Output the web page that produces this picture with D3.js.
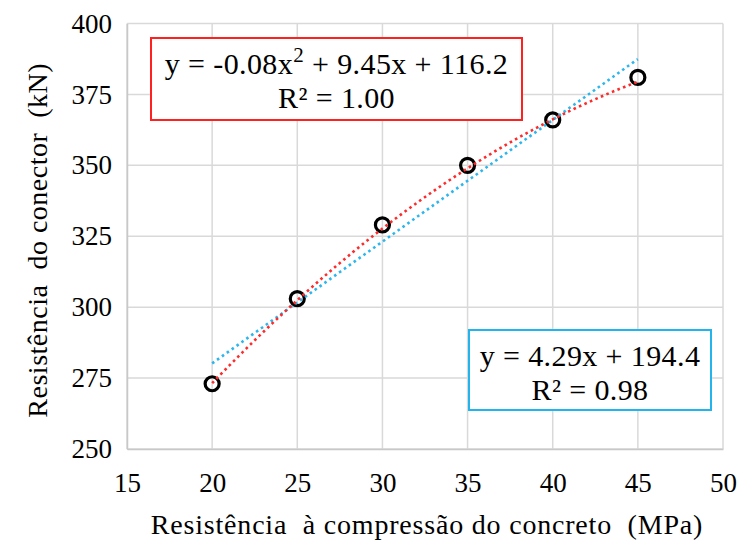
<!DOCTYPE html>
<html>
<head>
<meta charset="utf-8">
<script src="https://cdn.jsdelivr.net/npm/d3@7"></script>
<style>
  html, body { margin: 0; padding: 0; background: #fff; }
  svg text { font-family: "Liberation Serif", "Times New Roman", Times, "DejaVu Serif", serif; white-space: pre; }
</style>
</head>
<body>
<svg id="chart" width="741" height="548"></svg>
<script>
// Concrete compressive strength (MPa) vs. shear connector resistance (kN)
const strengthMPa = [20, 25, 30, 35, 40, 45];
const resistanceKN = [273, 303, 329, 350, 366, 381];

const xTicks = [15, 20, 25, 30, 35, 40, 45, 50];
const yTicks = [250, 275, 300, 325, 350, 375, 400];

// Trendline coefficients as printed in the equation boxes
const polyCoef = [-0.08, 9.45, 116.2];   // a x^2 + b x + c
const linCoef = [4.29, 194.4];           // m x + q
const polyR2 = "1.00";
const linR2 = "0.98";

const W = 741, H = 548;
const margin = { left: 127, right: 18, top: 23.5, bottom: 99 };
const svg = d3.select("#chart");

const x = d3.scaleLinear().domain([15, 50]).range([margin.left, W - margin.right]);
const y = d3.scaleLinear().domain([250, 400]).range([H - margin.bottom, margin.top]);

const gridColor = "#d9d9d9";

// gridlines
svg.append("g").selectAll("line").data(xTicks).join("line")
  .attr("x1", d => x(d)).attr("x2", d => x(d))
  .attr("y1", y(250)).attr("y2", y(400))
  .attr("stroke", gridColor).attr("stroke-width", 1.5);
svg.append("g").selectAll("line").data(yTicks).join("line")
  .attr("x1", x(15)).attr("x2", x(50))
  .attr("y1", d => y(d)).attr("y2", d => y(d))
  .attr("stroke", gridColor).attr("stroke-width", 1.5);

// axes (labels only)
const xAxis = svg.append("g")
  .attr("transform", `translate(0,${y(250)})`)
  .call(d3.axisBottom(x).tickValues(xTicks).tickSize(0).tickPadding(24).tickFormat(d3.format("d")));
xAxis.attr("font-family", null).attr("font-size", null);
xAxis.select(".domain").attr("stroke", "#c8c8c8").attr("stroke-width", 1.5);
xAxis.selectAll("text").attr("font-size", 27).attr("fill", "#000");

const yAxis = svg.append("g")
  .attr("transform", `translate(${x(15)},0)`)
  .call(d3.axisLeft(y).tickValues(yTicks).tickSize(0).tickPadding(15).tickFormat(d3.format("d")));
yAxis.attr("font-family", null).attr("font-size", null);
yAxis.select(".domain").attr("stroke", "#c8c8c8").attr("stroke-width", 1.5);
yAxis.selectAll("text").attr("font-size", 27).attr("fill", "#000");

// axis titles
svg.append("text")
  .attr("x", (x(15) + x(50)) / 2 + 2).attr("y", 534)
  .attr("text-anchor", "middle").attr("font-size", 28).attr("letter-spacing", 0.8)
  .text("Resistência  à compressão do concreto  (MPa)");

svg.append("text")
  .attr("transform", `translate(47,${(y(250) + y(400)) / 2 + 4}) rotate(-90)`)
  .attr("text-anchor", "middle").attr("font-size", 28).attr("letter-spacing", 0.5)
  .text("Resistência  do conector  (kN)");

// data markers
svg.append("g").selectAll("circle").data(strengthMPa).join("circle")
  .attr("cx", d => x(d)).attr("cy", (d, i) => y(resistanceKN[i]))
  .attr("r", 7).attr("fill", "none").attr("stroke", "#000").attr("stroke-width", 3.2);

// trendlines
const xs = d3.range(0, 101).map(i => 20 + i * 0.25);
const poly = v => polyCoef[0] * v * v + polyCoef[1] * v + polyCoef[2];
const lin = v => linCoef[0] * v + linCoef[1];
const lineGen = f => d3.line().x(d => x(d)).y(d => y(f(d)));

svg.append("path").datum(xs)
  .attr("d", lineGen(lin)).attr("fill", "none")
  .attr("stroke", "#2bb6ee").attr("stroke-width", 2.6).attr("stroke-dasharray", "2.6 3.4");
svg.append("path").datum(xs)
  .attr("d", lineGen(poly)).attr("fill", "none")
  .attr("stroke", "#ff2a2a").attr("stroke-width", 2.6).attr("stroke-dasharray", "2.6 3.4");

// equation boxes
function eqBox(bx, by, bw, bh, color, line1, line2) {
  const g = svg.append("g");
  g.append("rect").attr("x", bx).attr("y", by).attr("width", bw).attr("height", bh)
    .attr("fill", "#fff").attr("stroke", color).attr("stroke-width", 2);
  const cx = bx + bw / 2;
  const t1 = g.append("text").attr("x", cx).attr("y", by + 36)
    .attr("text-anchor", "middle").attr("font-size", 30).attr("letter-spacing", 0.4);
  line1(t1);
  g.append("text").attr("x", cx).attr("y", by + 70)
    .attr("text-anchor", "middle").attr("font-size", 30).attr("letter-spacing", 0.4)
    .text(line2);
}

eqBox(151, 38, 371, 82, "#ff2020", t => {
  t.append("tspan").text(`y = ${polyCoef[0].toFixed(2)}x`);
  t.append("tspan").attr("dy", -12).attr("font-size", 21).text("2");
  t.append("tspan").attr("dy", 12).text(` + ${polyCoef[1].toFixed(2)}x + ${polyCoef[2].toFixed(1)}`);
}, `R² = ${polyR2}`);

eqBox(469, 330, 242, 80, "#22b4ec", t => {
  t.text(`y = ${linCoef[0].toFixed(2)}x + ${linCoef[1].toFixed(1)}`);
}, `R² = ${linR2}`);
</script>
</body>
</html>
